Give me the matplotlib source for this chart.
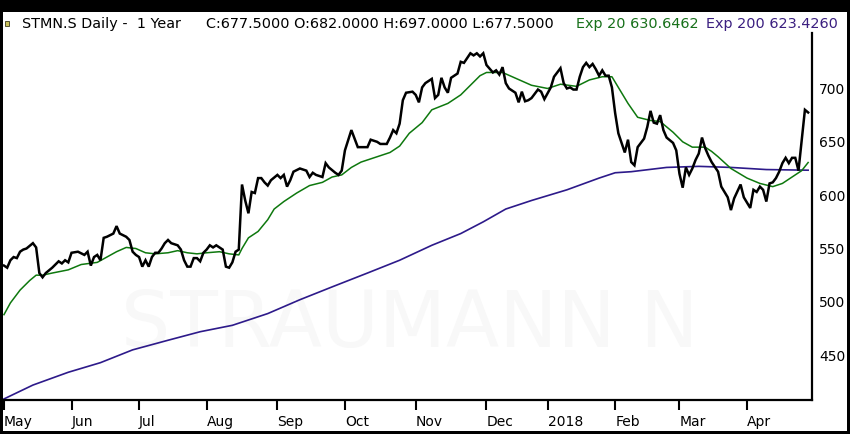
import pandas as pd
import matplotlib
matplotlib.use("Agg")
import matplotlib.pyplot as plt
from matplotlib.patches import Rectangle

# SIX trading calendar for the year shown
holidays = ["2017-05-01", "2017-05-25", "2017-06-05", "2017-08-01", "2017-12-25",
            "2017-12-26", "2018-01-01", "2018-01-02", "2018-03-30", "2018-04-02"]

close_dates = [
    "2017-05-02", "2017-05-03", "2017-05-04", "2017-05-05", "2017-05-08", "2017-05-09",
    "2017-05-10", "2017-05-11", "2017-05-15", "2017-05-16", "2017-05-17", "2017-05-18",
    "2017-05-19", "2017-05-23", "2017-05-26", "2017-05-29", "2017-05-30", "2017-05-31",
    "2017-06-01", "2017-06-06", "2017-06-08", "2017-06-09", "2017-06-12", "2017-06-13",
    "2017-06-14", "2017-06-15", "2017-06-16", "2017-06-19", "2017-06-21", "2017-06-22",
    "2017-06-23", "2017-06-27", "2017-06-28", "2017-06-29", "2017-06-30", "2017-07-03",
    "2017-07-04", "2017-07-05", "2017-07-06", "2017-07-07", "2017-07-10", "2017-07-11",
    "2017-07-12", "2017-07-13", "2017-07-14", "2017-07-17", "2017-07-19", "2017-07-20",
    "2017-07-21", "2017-07-24", "2017-07-25", "2017-07-26", "2017-07-27", "2017-07-28",
    "2017-07-31", "2017-08-02", "2017-08-03", "2017-08-04", "2017-08-07", "2017-08-09",
    "2017-08-10", "2017-08-11", "2017-08-14", "2017-08-15", "2017-08-16", "2017-08-17",
    "2017-08-18", "2017-08-21", "2017-08-22", "2017-08-23", "2017-08-24", "2017-08-25",
    "2017-08-28", "2017-08-29", "2017-08-30", "2017-09-01", "2017-09-04", "2017-09-05",
    "2017-09-06", "2017-09-07", "2017-09-08", "2017-09-12", "2017-09-14", "2017-09-15",
    "2017-09-18", "2017-09-19", "2017-09-21", "2017-09-22", "2017-09-25", "2017-09-27",
    "2017-09-28", "2017-09-29", "2017-10-02", "2017-10-04", "2017-10-05", "2017-10-06",
    "2017-10-09", "2017-10-11", "2017-10-12", "2017-10-16", "2017-10-17", "2017-10-19",
    "2017-10-20", "2017-10-23", "2017-10-24", "2017-10-25", "2017-10-26", "2017-10-27",
    "2017-10-31", "2017-11-01", "2017-11-02", "2017-11-03", "2017-11-06", "2017-11-08",
    "2017-11-09", "2017-11-10", "2017-11-13", "2017-11-14", "2017-11-15", "2017-11-16",
    "2017-11-20", "2017-11-21", "2017-11-22", "2017-11-24", "2017-11-27", "2017-11-28",
    "2017-11-29", "2017-11-30", "2017-12-01", "2017-12-05", "2017-12-06", "2017-12-07",
    "2017-12-08", "2017-12-11", "2017-12-12", "2017-12-14", "2017-12-15", "2017-12-18",
    "2017-12-19", "2017-12-20", "2017-12-21", "2017-12-27", "2017-12-28", "2017-12-29",
    "2018-01-04", "2018-01-05", "2018-01-09", "2018-01-10", "2018-01-11", "2018-01-12",
    "2018-01-15", "2018-01-16", "2018-01-17", "2018-01-18", "2018-01-19", "2018-01-22",
    "2018-01-23", "2018-01-24", "2018-01-25", "2018-01-26", "2018-01-29", "2018-01-30",
    "2018-01-31", "2018-02-01", "2018-02-02", "2018-02-06", "2018-02-07", "2018-02-08",
    "2018-02-09", "2018-02-12", "2018-02-14", "2018-02-15", "2018-02-16", "2018-02-19",
    "2018-02-20", "2018-02-21", "2018-02-22", "2018-02-23", "2018-02-27", "2018-02-28",
    "2018-03-01", "2018-03-02", "2018-03-05", "2018-03-06", "2018-03-07", "2018-03-08",
    "2018-03-09", "2018-03-12", "2018-03-13", "2018-03-14", "2018-03-15", "2018-03-19",
    "2018-03-20", "2018-03-22", "2018-03-23", "2018-03-26", "2018-03-28", "2018-03-29",
    "2018-04-04", "2018-04-05", "2018-04-06", "2018-04-09", "2018-04-10", "2018-04-11",
    "2018-04-12", "2018-04-13", "2018-04-16", "2018-04-17", "2018-04-18", "2018-04-19",
    "2018-04-20", "2018-04-23", "2018-04-24", "2018-04-25", "2018-04-26", "2018-04-27",
    "2018-04-30",
]
close = [
    534, 532, 539, 542, 541, 547,
    549, 550, 555, 551, 527, 523,
    527, 532, 538, 536, 539, 537,
    546, 547, 544, 547, 534, 542,
    544, 539, 560, 561, 564, 571,
    564, 561, 558, 547, 544, 542,
    533, 539, 533, 542, 546, 546,
    550, 555, 558, 555, 553, 549,
    539, 533, 533, 541, 541, 538,
    546, 549, 553, 551, 553, 549,
    533, 532, 537, 547, 549, 610,
    595, 583, 603, 602, 616, 616,
    612, 609, 614, 619, 616, 619,
    608, 614, 622, 625, 623, 617,
    621, 619, 617, 630, 626, 621,
    619, 623, 642, 661, 653, 645,
    645, 645, 652, 650, 648, 648,
    654, 661, 658, 667, 689, 696,
    697, 694, 687, 701, 705, 709,
    691, 694, 710, 701, 696, 710,
    714, 725, 724, 733, 731, 733,
    730, 733, 722, 715, 717, 713,
    720, 705, 700, 696, 687, 697,
    688, 689, 691, 699, 697, 690,
    701, 711, 719, 705, 700, 701,
    699, 699, 711, 720, 724, 720,
    723, 718, 712, 717, 712, 712,
    701, 677, 658, 640, 652, 631,
    628, 645, 653, 664, 679, 668,
    667, 675, 661, 654, 649, 642,
    620, 607, 626, 619, 625, 633,
    639, 654, 644, 637, 631, 622,
    608, 598, 586, 597, 610, 598,
    588, 605, 603, 608, 605, 594,
    611, 612, 616, 622, 630, 635,
    630, 635, 635, 623, 652, 680,
    677.5,
]

ema20_dates = [
    "2017-05-02", "2017-05-04", "2017-05-09", "2017-05-12", "2017-05-16", "2017-05-18",
    "2017-05-23", "2017-05-31", "2017-06-07", "2017-06-14", "2017-06-19", "2017-06-22",
    "2017-06-27", "2017-06-30", "2017-07-05", "2017-07-10", "2017-07-14", "2017-07-19",
    "2017-07-24", "2017-07-27", "2017-08-02", "2017-08-08", "2017-08-11", "2017-08-16",
    "2017-08-17", "2017-08-21", "2017-08-24", "2017-08-29", "2017-08-31", "2017-09-05",
    "2017-09-11", "2017-09-15", "2017-09-21", "2017-09-26", "2017-09-29", "2017-10-04",
    "2017-10-09", "2017-10-16", "2017-10-20", "2017-10-25", "2017-10-30", "2017-11-03",
    "2017-11-08", "2017-11-15", "2017-11-21", "2017-11-24", "2017-11-29", "2017-12-01",
    "2017-12-06", "2017-12-08", "2017-12-13", "2017-12-18", "2017-12-21", "2018-01-03",
    "2018-01-09", "2018-01-16", "2018-01-22", "2018-01-26", "2018-01-31", "2018-02-02",
    "2018-02-07", "2018-02-12", "2018-02-16", "2018-02-21", "2018-02-27", "2018-03-02",
    "2018-03-07", "2018-03-13", "2018-03-15", "2018-03-19", "2018-03-23", "2018-04-03",
    "2018-04-09", "2018-04-13", "2018-04-18", "2018-04-24", "2018-04-26", "2018-04-30",
]
ema20 = [
    488, 499, 511, 520, 525, 525,
    527, 530, 535, 537, 542, 547,
    551, 550, 546, 545, 546, 548,
    546, 545, 546, 547, 545, 544,
    550, 560, 566, 577, 587, 594,
    602, 609, 612, 617, 619, 626,
    631, 636, 640, 646, 658, 668,
    680, 686, 694, 703, 712, 715,
    715, 715, 711, 707, 703, 700,
    704, 702, 708, 711, 711, 701,
    686, 673, 670, 669, 659, 650,
    645, 645, 641, 636, 625, 616,
    611, 608, 611, 619, 623, 630.6,
]

ema200_dates = [
    "2017-05-02", "2017-05-15", "2017-05-31", "2017-06-15", "2017-06-29", "2017-07-14",
    "2017-07-28", "2017-08-14", "2017-08-21", "2017-08-29", "2017-09-12", "2017-09-26",
    "2017-10-11", "2017-10-25", "2017-11-08", "2017-11-21", "2017-11-30", "2017-12-11",
    "2017-12-21", "2018-01-11", "2018-01-25", "2018-02-01", "2018-02-08", "2018-02-23",
    "2018-03-09", "2018-03-23", "2018-04-11", "2018-04-30",
]
ema200 = [
    409, 422, 434, 443, 455, 464,
    472, 478, 483, 489, 502, 514,
    527, 539, 553, 564, 575, 587,
    595, 605, 616, 621, 622, 626,
    627, 626, 624, 623.4,
]

month_labels = ["May", "Jun", "Jul", "Aug", "Sep", "Oct", "Nov", "Dec",
                "2018", "Feb", "Mar", "Apr"]
price_ticks = [450, 500, 550, 600, 650, 700]

header_parts = [
    ("STMN.S Daily -  1 Year", "black"),
    ("C:677.5000 O:682.0000 H:697.0000 L:677.5000", "black"),
    ("Exp 20 630.6462", "#17701a"),
    ("Exp 200 623.4260", "#3b1f80"),
]

sessions = pd.bdate_range("2017-05-01", "2018-04-30")
sessions = sessions[~sessions.isin(pd.to_datetime(holidays))]


def to_session(dates):
    return sessions.searchsorted(pd.to_datetime(dates))


month_first = sessions.to_series().groupby(sessions.to_period("M")).first()
tick_pos = to_session(month_first.values)

W, H = 850, 434
fig = plt.figure(figsize=(W / 100, H / 100), dpi=100, facecolor="black")
fig.add_artist(Rectangle((3 / W, 3 / H), 844 / W, 419 / H, transform=fig.transFigure,
                         facecolor="white", edgecolor="none", zorder=-10))

ax = fig.add_axes([3 / W, 34 / H, 809 / W, 367 / H])
ax.set_facecolor("none")

ax.text(410 / W, 1 - 325 / H, "STRAUMANN N", transform=fig.transFigure, fontsize=56,
        color="#f8f8f8", ha="center", va="center", zorder=0)

ax.plot(to_session(ema200_dates), ema200, color="#2d1a8a", lw=1.2, zorder=2)
ax.plot(to_session(ema20_dates), ema20, color="#0e780e", lw=1.1, zorder=3)
ax.plot(to_session(close_dates), close, color="black", lw=1.8, zorder=4,
        solid_joinstyle="miter")

ax.set_xlim(-0.3, 251.2)
ax.set_ylim(408, 752)

for side in ["top", "left"]:
    ax.spines[side].set_visible(False)
for side in ["right", "bottom"]:
    ax.spines[side].set_linewidth(1.6)

ax.yaxis.tick_right()
ax.set_yticks(price_ticks)
ax.set_yticklabels([str(v) for v in price_ticks])
ax.tick_params(axis="y", length=0, pad=5, labelsize=10)

ax.set_xticks(tick_pos)
ax.set_xticklabels(month_labels)
ax.tick_params(axis="x", direction="out", length=7, width=1.5, pad=4, labelsize=10)
for lab in ax.get_xticklabels():
    lab.set_ha("left")

# header line
starts = [22, 206, 576, 706]
for (txt, col), x0 in zip(header_parts, starts):
    fig.text(x0 / W, 1 - 24 / H, txt, color=col, fontsize=10.4, ha="left", va="center")

fig.add_artist(Rectangle((5 / W, 1 - 26 / H), 4 / W, 5 / H, transform=fig.transFigure,
                         facecolor="#c8c05a", edgecolor="#3c3c1c", lw=0.6))

fig.savefig("out.png", dpi=100, facecolor=fig.get_facecolor())
